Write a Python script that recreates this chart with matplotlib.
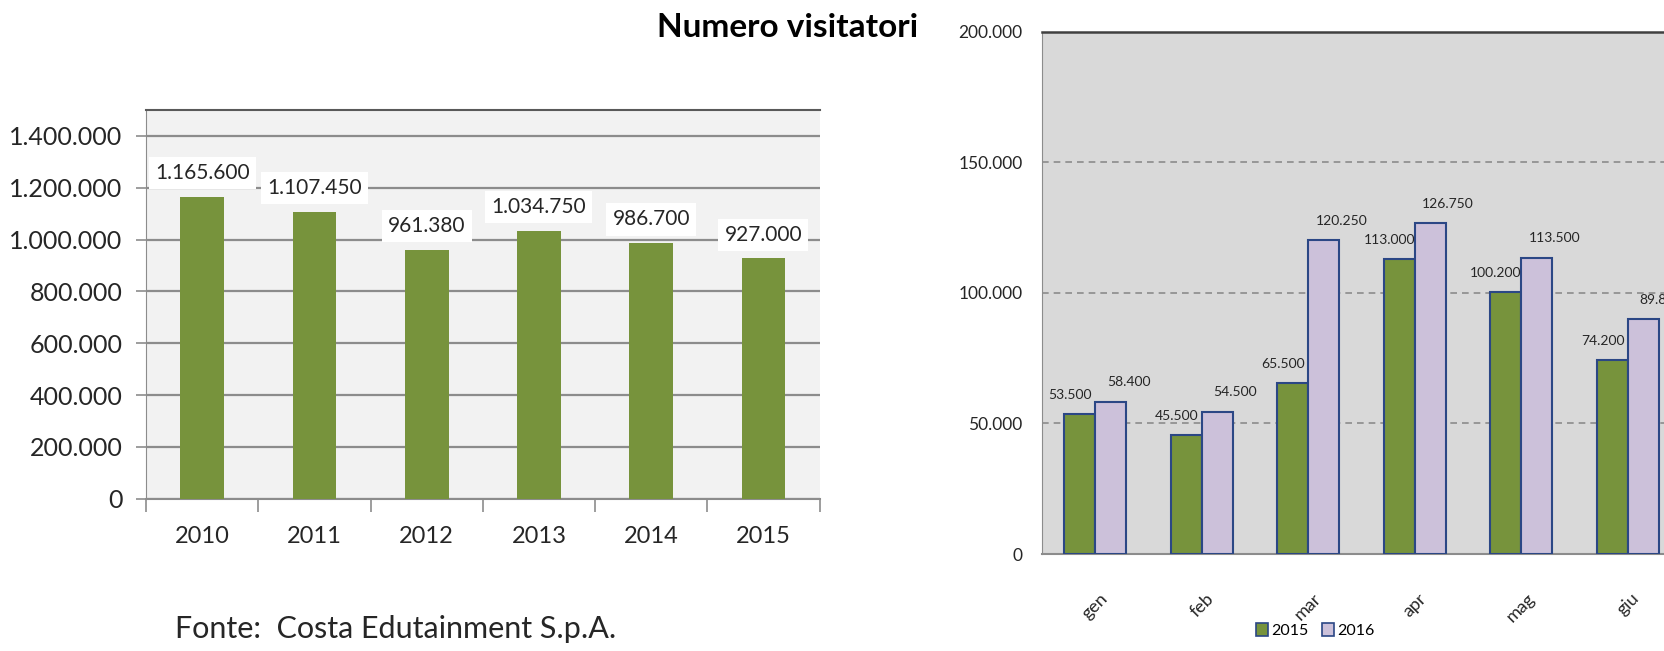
import numpy as np
import matplotlib
matplotlib.use('Agg')
import matplotlib.pyplot as plt
from matplotlib.patches import Patch

plt.rcParams['font.family'] = ['Lato', 'DejaVu Sans']

# annual visitors
years = ['2010', '2011', '2012', '2013', '2014', '2015']
visitors = [1165600, 1107450, 961380, 1034750, 986700, 927000]

# monthly visitors, 2015 vs 2016
months = ['gen', 'feb', 'mar', 'apr', 'mag', 'giu']
v2015 = [53500, 45500, 65500, 113000, 100200, 74200]
v2016 = [58400, 54500, 120250, 126750, 113500, 89850]

GREEN = '#77933c'
LILAC = '#ccc1da'
NAVY = '#2b4785'


def itnum(v):
    return '{:,}'.format(int(v)).replace(',', '.')


fig = plt.figure(figsize=(16.65, 6.51), dpi=100)

# ---- left chart: yearly totals
ax1 = fig.add_axes([0.0877, 0.234, 0.4045, 0.597])
ax1.set_facecolor('#f2f2f2')
x1 = np.arange(len(years))
ax1.bar(x1, visitors, width=0.39, color=GREEN, zorder=3)
ax1.set_xlim(-0.5, len(years) - 0.5)
ax1.set_ylim(0, 1500000)
ax1.set_yticks(np.arange(0, 1400001, 200000))
ax1.set_yticklabels([itnum(v) for v in np.arange(0, 1400001, 200000)],
                    fontsize=18, color='#262626')
ax1.yaxis.grid(True, color='#8c8c8c', linewidth=1.6, zorder=0)
ax1.tick_params(axis='y', length=7, width=1.2, color='#8c8c8c', pad=10)
ax1.set_xticks(x1)
ax1.set_xticklabels(years, fontsize=17, color='#262626')
ax1.set_xticks(np.arange(-0.5, len(years)), minor=True)
ax1.tick_params(axis='x', which='major', length=0, pad=20)
ax1.tick_params(axis='x', which='minor', length=9, width=1.2, color='#8c8c8c')
ax1.spines['right'].set_visible(False)
ax1.spines['top'].set_color('#595959')
ax1.spines['top'].set_linewidth(1.5)
ax1.spines['left'].set_color('#8c8c8c')
ax1.spines['bottom'].set_color('#8c8c8c')
ax1.spines['bottom'].set_linewidth(1.5)
for xi, v in zip(x1, visitors):
    ax1.annotate(itnum(v), (xi, v), xytext=(0, 17), textcoords='offset points',
                 ha='center', va='center', fontsize=15, color='#262626',
                 bbox=dict(boxstyle='square,pad=0.3', fc='white', ec='none'),
                 zorder=5)

fig.text(0.473, 0.958, 'Numero visitatori', ha='center', va='center',
         fontsize=24, fontweight='bold', color='black')
fig.text(0.105, 0.034, 'Fonte:  Costa Edutainment S.p.A.', ha='left',
         va='center', fontsize=22, color='#262626')

# ---- right chart: monthly comparison (cut off at the right edge)
ax2 = fig.add_axes([0.6258, 0.149, 0.3838, 0.802])
ax2.set_facecolor('#d9d9d9')
x2 = np.arange(len(months))
bw = 0.29
ax2.bar(x2 - bw / 2, v2015, width=bw, color=GREEN, edgecolor=NAVY,
        linewidth=1.5, zorder=3, label='2015')
ax2.bar(x2 + bw / 2, v2016, width=bw, color=LILAC, edgecolor=NAVY,
        linewidth=1.5, zorder=3, label='2016')
ax2.set_xlim(-0.5, len(months) - 0.5)
ax2.set_ylim(0, 200000)
ax2.set_yticks(np.arange(0, 200001, 50000))
ax2.set_yticklabels([itnum(v) for v in np.arange(0, 200001, 50000)],
                    fontsize=12.5, color='#262626')
ax2.tick_params(axis='y', length=0, pad=14)
ax2.yaxis.grid(True, color='#8c8c8c', linestyle=(0, (4, 3)), linewidth=1.2,
               zorder=0)
ax2.set_xticks(x2)
ax2.set_xticklabels(months, fontsize=13, color='#262626', rotation=45,
                    ha='center', va='top')
ax2.tick_params(axis='x', length=0, pad=26)
ax2.spines['top'].set_color('#404040')
ax2.spines['top'].set_linewidth(1.8)
ax2.spines['left'].set_color('#8c8c8c')
ax2.spines['bottom'].set_color('#8c8c8c')
ax2.spines['bottom'].set_linewidth(1.5)
ax2.spines['right'].set_visible(False)
for xi, a, b in zip(x2, v2015, v2016):
    ax2.annotate(itnum(a), (xi - bw / 2, a), xytext=(-7, 14),
                 textcoords='offset points', ha='center', va='center',
                 fontsize=10, color='#262626', zorder=5)
    ax2.annotate(itnum(b), (xi + bw / 2, b), xytext=(13, 14),
                 textcoords='offset points', ha='center', va='center',
                 fontsize=10, color='#262626', zorder=5)

handles = [Patch(facecolor=GREEN, edgecolor=NAVY, linewidth=1.2, label='2015'),
           Patch(facecolor=LILAC, edgecolor=NAVY, linewidth=1.2, label='2016')]
fig.legend(handles=handles, loc='center', bbox_to_anchor=(0.79, 0.031),
           ncol=2, frameon=False, fontsize=11.5, handlelength=0.8,
           handleheight=0.8, handletextpad=0.2, columnspacing=0.8)

fig.savefig('out.png', dpi=100)
